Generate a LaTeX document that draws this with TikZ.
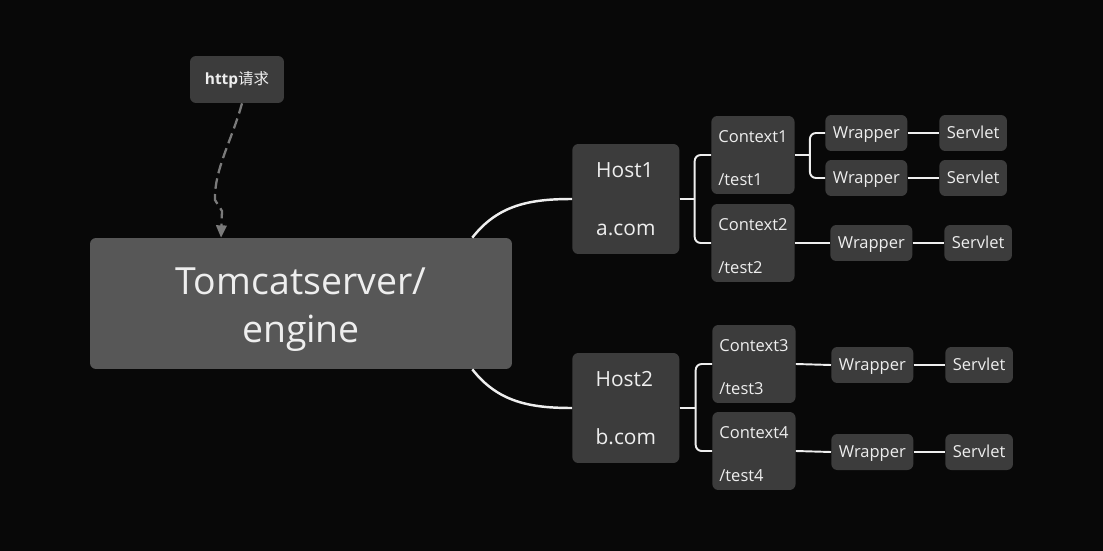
\documentclass[tikz,border=0pt]{standalone}
\usepackage{fontspec}
\setmainfont{Open Sans}
\newfontfamily\cjk{Noto Sans CJK SC}
\usetikzlibrary{arrows.meta}
\definecolor{bgc}{HTML}{080808}
\definecolor{boxgray}{HTML}{3C3C3C}
\definecolor{enginegray}{HTML}{575757}
\definecolor{txt}{HTML}{EEEEEE}
\definecolor{dashgray}{HTML}{7A7A7A}
\tikzset{
  basebox/.style={fill=boxgray,text=txt,rounded corners=0.12cm},
  mainbox/.style={basebox,fill=enginegray,minimum width=8.44cm,minimum height=2.62cm,align=center,font=\fontsize{21.3}{27}\selectfont},
  reqbox/.style={basebox,minimum width=1.88cm,minimum height=0.94cm,text height=6.6pt,text depth=1.2pt,font=\fontsize{8.8}{10}\selectfont},
  hostbox/.style={basebox,minimum width=2.14cm,minimum height=2.2cm,align=left,font=\fontsize{11.9}{32.9}\selectfont},
  ctxbox/.style={basebox,inner xsep=0.14cm,minimum height=1.56cm,align=left,font=\fontsize{9.4}{24.4}\selectfont},
  leafbox/.style={basebox,inner xsep=0.15cm,minimum height=0.72cm,text height=6.8pt,text depth=0.6pt,font=\fontsize{9.4}{11}\selectfont},
  link/.style={draw=txt,line width=1.4pt},
  elbow/.style={link,line width=1.1pt,rounded corners=0.12cm}
}
\begin{document}
\begin{tikzpicture}[x=0.02cm,y=-0.02cm]
	 \fill[bgc] (0,0) rectangle (1103,551);
	 \useasboundingbox (0,0) rectangle (1103,551);
	 \node[reqbox] (req) at (237,79.5) {\textbf{http}\cjk{请求}};
	 \node[mainbox] (engine) at (301,303.5) {\rule{0pt}{22pt}Tomcatserver/\\engine};
	 \node[hostbox,anchor=west] (host1) at (572,199) {Host1\\a.com};
	 \node[hostbox,anchor=west] (host2) at (572,408) {Host2\\b.com};
	 \node[ctxbox,anchor=west] (ctx1) at (711,155) {\rule{0pt}{10.4pt}Context1\\/test1};
	 \node[ctxbox,anchor=west] (ctx2) at (711,243) {\rule{0pt}{10.4pt}Context2\\/test2};
	 \node[ctxbox,anchor=west] (ctx3) at (712,364) {\rule{0pt}{10.4pt}Context3\\/test3};
	 \node[ctxbox,anchor=west] (ctx4) at (712,451) {\rule{0pt}{10.4pt}Context4\\/test4};
	 \node[leafbox,anchor=west] (wrap1) at (825,133) {Wrapper};
	 \node[leafbox,anchor=west] (wrap2) at (825,178) {Wrapper};
	 \node[leafbox,anchor=west] (wrap3) at (830,243) {Wrapper};
	 \node[leafbox,anchor=west] (wrap4) at (831,365) {Wrapper};
	 \node[leafbox,anchor=west] (wrap5) at (831,452) {Wrapper};
	 \node[leafbox,anchor=west] (serv1) at (939,133) {Servlet};
	 \node[leafbox,anchor=west] (serv2) at (939,178) {Servlet};
	 \node[leafbox,anchor=west] (serv3) at (944,243) {Servlet};
	 \node[leafbox,anchor=west] (serv4) at (945,365) {Servlet};
	 \node[leafbox,anchor=west] (serv5) at (945,452) {Servlet};
	 % request into the engine
	 \draw[dashgray,line width=1.3pt,dash pattern=on 6pt off 3pt,-{Triangle[length=7pt,width=6pt]}]
	   ([xshift=0.1cm]req.south) .. controls (232,140) and (214,170) .. (215,200) -- (222,211) -- ([xshift=-1.6cm]engine.north);
	 % engine to hosts
	 \draw[link] ([xshift=-0.8cm]engine.north east) to[out=52,in=180] (host1.west);
	 \draw[link] ([xshift=-0.8cm]engine.south east) to[out=-52,in=180] (host2.west);
	 % hosts to contexts
	 \draw[link,line width=1.1pt] (host1.east) -- ++(15,0) coordinate (h1);
	 \draw[elbow] (ctx1.west) -| (h1) |- (ctx2.west);
	 \draw[link,line width=1.1pt] (host2.east) -- ++(16,0) coordinate (h2);
	 \draw[elbow] (ctx3.west) -| (h2) |- (ctx4.west);
	 % contexts to wrappers
	 \draw[link,line width=1.1pt] (ctx1.east) -- ++(15,0) coordinate (c1);
	 \draw[elbow] (wrap1.west) -| (c1) |- (wrap2.west);
	 \draw[link,line width=1.1pt] (ctx2.east) -- (wrap3.west);
	 \draw[link,line width=1.1pt] (ctx3.east) -- (wrap4.west);
	 \draw[link,line width=1.1pt] (ctx4.east) -- (wrap5.west);
	 % wrappers to servlets
	 \foreach \i in {1,...,5}
	   \draw[link,line width=1.1pt] (wrap\i.east) -- (serv\i.west);
\end{tikzpicture}
\end{document}
